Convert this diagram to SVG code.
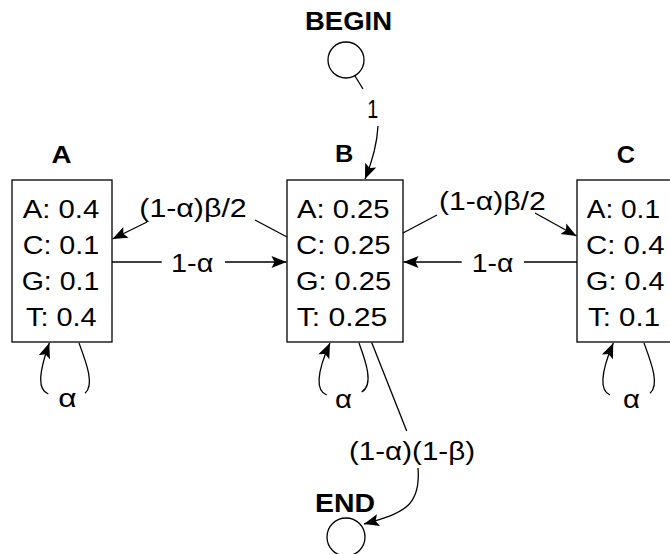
<svg xmlns="http://www.w3.org/2000/svg" width="670" height="554" viewBox="0 0 670 554">
<style>
text{font-family:"Liberation Sans",Arial,Helvetica,sans-serif;fill:#000}
.t{font-size:26px}
.h{font-size:26px;font-weight:bold}
.l{font-size:24px;font-weight:bold}
.box{fill:#fff;stroke:#000;stroke-width:1.3}
.c{fill:none;stroke:#000;stroke-width:1.3}
.a{marker-end:url(#ah)}
</style>
<defs>
<marker id="ah" markerUnits="userSpaceOnUse" markerWidth="16" markerHeight="13" refX="15" refY="6" orient="auto" overflow="visible">
<path d="M0,0 L15,6 L0,12 L3,6 z" fill="#000"/>
</marker>
</defs>
<rect width="670" height="554" fill="#fff"/>
<g id="begin">
<text class="h" x="305" y="30" textLength="87" lengthAdjust="spacingAndGlyphs">BEGIN</text>
<circle class="c" cx="346" cy="60" r="18"/>
</g>
<g id="A">
<text class="l" x="51.5" y="163" textLength="20" lengthAdjust="spacingAndGlyphs">A</text>
<rect class="box" x="12" y="180" width="100" height="162"/>
<text class="t" x="22.7" y="218" textLength="76.6" lengthAdjust="spacingAndGlyphs">A: 0.4</text>
<text class="t" x="22.7" y="254" textLength="76.6" lengthAdjust="spacingAndGlyphs">C: 0.1</text>
<text class="t" x="21.7" y="290" textLength="77.6" lengthAdjust="spacingAndGlyphs">G: 0.1</text>
<text class="t" x="26" y="326" textLength="70.7" lengthAdjust="spacingAndGlyphs">T: 0.4</text>
</g>
<g id="B">
<text class="l" x="335" y="162" textLength="18.3" lengthAdjust="spacingAndGlyphs">B</text>
<rect class="box" x="287" y="180" width="116" height="162"/>
<text class="t" x="297" y="218" textLength="92.5" lengthAdjust="spacingAndGlyphs">A: 0.25</text>
<text class="t" x="296" y="254" textLength="94.7" lengthAdjust="spacingAndGlyphs">C: 0.25</text>
<text class="t" x="296" y="290" textLength="95" lengthAdjust="spacingAndGlyphs">G: 0.25</text>
<text class="t" x="296.7" y="326" textLength="90.6" lengthAdjust="spacingAndGlyphs">T: 0.25</text>
</g>
<g id="C">
<text class="l" x="616.7" y="162.5" textLength="18.3" lengthAdjust="spacingAndGlyphs">C</text>
<rect class="box" x="577" y="180" width="100" height="162"/>
<text class="t" x="586.7" y="218" textLength="73.3" lengthAdjust="spacingAndGlyphs">A: 0.1</text>
<text class="t" x="586" y="254" textLength="78.5" lengthAdjust="spacingAndGlyphs">C: 0.4</text>
<text class="t" x="586" y="290" textLength="78.5" lengthAdjust="spacingAndGlyphs">G: 0.4</text>
<text class="t" x="588" y="326" textLength="72" lengthAdjust="spacingAndGlyphs">T: 0.1</text>
</g>
<g id="end">
<text class="h" x="315" y="511.7" textLength="60" lengthAdjust="spacingAndGlyphs">END</text>
<circle class="c" cx="346" cy="537" r="19"/>
</g>
<g id="connectors">
<path class="c" d="M355,76 L363,89"/>
<text class="t" x="367.3" y="117.5" textLength="11" lengthAdjust="spacingAndGlyphs">1</text>
<path class="c a" d="M378,126 C377,146 372,162 365,179"/>
<path class="c" d="M287,237 L255,220"/>
<text class="t" x="139.3" y="217" textLength="107.4" lengthAdjust="spacingAndGlyphs">(1-α)β/2</text>
<path class="c a" d="M147,222 L112.5,239"/>
<path class="c" d="M112,262 L161.7,262"/>
<text class="t" x="171" y="272" textLength="42.3" lengthAdjust="spacingAndGlyphs">1-α</text>
<path class="c a" d="M225,262 L286.5,262"/>
<path class="c" d="M403,233 L437,215"/>
<text class="t" x="439" y="210" textLength="106.7" lengthAdjust="spacingAndGlyphs">(1-α)β/2</text>
<path class="c a" d="M535,213 L576.5,236"/>
<path class="c" d="M577,262 L524,262"/>
<text class="t" x="471.7" y="272" textLength="41.6" lengthAdjust="spacingAndGlyphs">1-α</text>
<path class="c a" d="M461.7,262 L403.5,262"/>
<path class="c a" d="M48.3,394 C38,390 38,375 49.3,343"/>
<path class="c" d="M79,343 C86,362 95,385 85,393.3"/>
<text class="t" x="58.3" y="406.7" textLength="18.4" lengthAdjust="spacingAndGlyphs">α</text>
<path class="c a" d="M326.7,395 C316,391 316,374 330,343"/>
<path class="c" d="M359,343 C366,362 374,385 361.7,392"/>
<text class="t" x="335" y="408" textLength="17" lengthAdjust="spacingAndGlyphs">α</text>
<path class="c a" d="M610,395 C600,391 600,374 613.3,343"/>
<path class="c" d="M644,343 C651,362 660,385 650,393.3"/>
<text class="t" x="623" y="408" textLength="17" lengthAdjust="spacingAndGlyphs">α</text>
<path class="c" d="M371.7,342.5 L406.7,431"/>
<text class="t" x="349" y="460" textLength="126" lengthAdjust="spacingAndGlyphs">(1-α)(1-β)</text>
<path class="c a" d="M418,468 C421,505 405,513 364,524"/>
</g>
</svg>
